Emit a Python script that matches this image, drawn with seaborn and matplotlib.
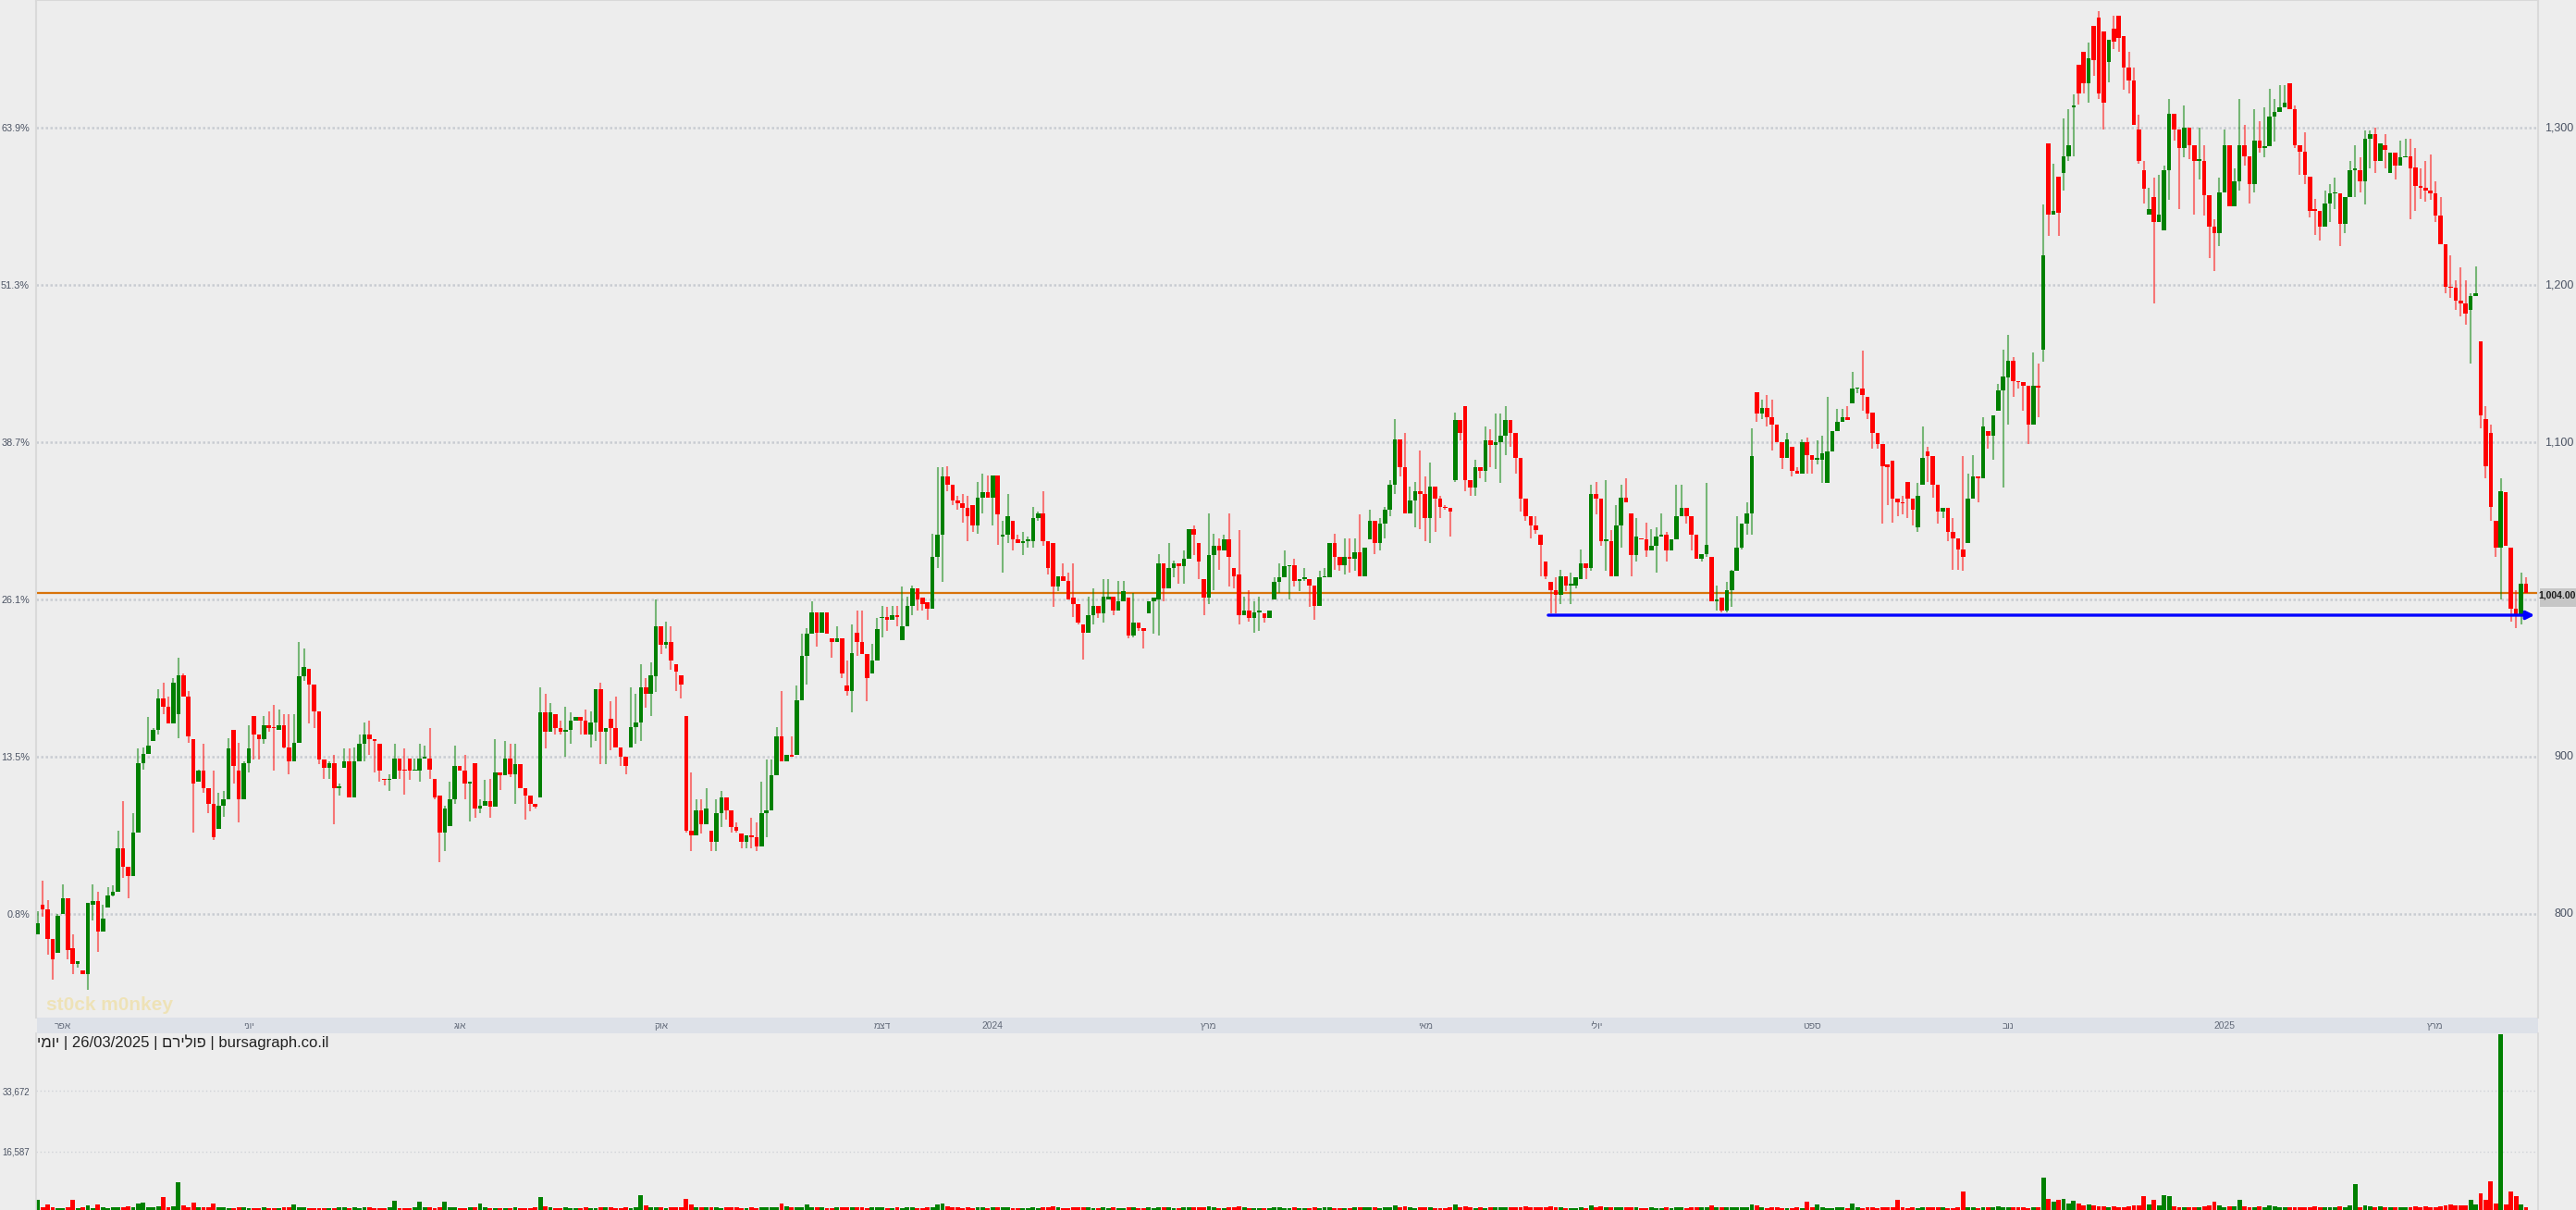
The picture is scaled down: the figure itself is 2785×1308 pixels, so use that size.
import numpy as np
import pandas as pd
import matplotlib
matplotlib.use('Agg')
import matplotlib.pyplot as plt
import matplotlib.transforms as mtransforms
from matplotlib.patches import Rectangle
import seaborn as sns

# ---------------- data ----------------
opens = [
    787, 806, 803, 784, 775, 800, 810, 778, 768, 764,
    762, 806, 808, 789, 804, 812, 814, 842, 830, 824,
    852, 896, 902, 910, 917, 937, 932, 921, 927, 952,
    938, 911, 884, 891, 880, 870, 854, 869, 873, 917,
    891, 873, 896, 926, 914, 911, 920, 919, 917, 920,
    906, 897, 909, 951, 956, 946, 929, 898, 893, 896,
    880, 893, 897, 874, 897, 908, 914, 911, 908, 886,
    885, 886, 899, 892, 899, 891, 891, 899, 899, 886,
    875, 852, 856, 873, 894, 891, 883, 896, 867, 869,
    872, 868, 890, 888, 899, 889, 895, 880, 875, 870,
    874, 928, 916, 927, 918, 916, 917, 923, 925, 923,
    914, 922, 943, 916, 924, 918, 906, 900, 906, 919,
    922, 944, 940, 951, 983, 971, 973, 959, 952, 926,
    853, 850, 866, 857, 853, 846, 864, 874, 866, 855,
    851, 846, 850, 849, 843, 864, 866, 888, 913, 897,
    901, 901, 936, 964, 978, 992, 979, 992, 975, 973,
    975, 945, 942, 979, 973, 965, 953, 961, 988, 989,
    987, 990, 974, 983, 996, 1007, 1001, 998, 994, 1027,
    1041, 1078, 1073, 1063, 1061, 1058, 1060, 1047, 1065, 1068,
    1065, 1079, 1040, 1041, 1050, 1038, 1036, 1037, 1037, 1052,
    1055, 1037, 1036, 1008, 1015, 1012, 1001, 997, 984, 979,
    990, 996, 991, 1000, 1002, 993, 999, 1001, 977, 985,
    982, 991, 999, 1000, 1023, 1007, 1020, 1023, 1021, 1026,
    1045, 1036, 1013, 1001, 1028, 1034, 1031, 1038, 1020, 1016,
    990, 993, 988, 992, 991, 988, 1000, 1011, 1014, 1021,
    1022, 1012, 1013, 1013, 1009, 996, 1014, 1014, 1036, 1027,
    1022, 1027, 1026, 1030, 1015, 1038, 1050, 1036, 1048, 1057,
    1073, 1102, 1084, 1055, 1063, 1069, 1067, 1052, 1072, 1064,
    1059, 1058, 1076, 1114, 1123, 1076, 1071, 1084, 1082, 1101,
    1098, 1100, 1104, 1114, 1106, 1090, 1064, 1053, 1047, 1041,
    1024, 1011, 1006, 1003, 1015, 1009, 1009, 1013, 1023, 1020,
    1067, 1064, 1037, 1037, 1015, 1047, 1065, 1055, 1028, 1039,
    1038, 1031, 1034, 1040, 1041, 1031, 1038, 1053, 1058, 1053,
    1041, 1026, 1029, 1027, 999, 1001, 993, 1006, 1018, 1033,
    1048, 1055, 1132, 1118, 1122, 1116, 1111, 1100, 1090, 1097,
    1082, 1080, 1100, 1092, 1089, 1089, 1074, 1094, 1107, 1113,
    1116, 1125, 1134, 1134, 1129, 1119, 1106, 1099, 1086, 1088,
    1064, 1062, 1075, 1064, 1046, 1073, 1094, 1091, 1073, 1056,
    1058, 1043, 1039, 1032, 1036, 1064, 1078, 1077, 1107, 1104,
    1120, 1133, 1141, 1152, 1139, 1138, 1136, 1111, 1136, 1159,
    1290, 1245, 1269, 1271, 1282, 1313, 1340, 1348, 1328, 1365,
    1370, 1361, 1342, 1363, 1371, 1358, 1338, 1330, 1299, 1273,
    1245, 1256, 1240, 1235, 1273, 1309, 1299, 1287, 1300, 1289,
    1279, 1279, 1257, 1237, 1233, 1259, 1289, 1250, 1266, 1289,
    1282, 1264, 1292, 1287, 1288, 1307, 1310, 1313, 1328, 1312,
    1289, 1285, 1269, 1248, 1247, 1237, 1252, 1258, 1258, 1239,
    1256, 1273, 1273, 1266, 1293, 1296, 1279, 1289, 1271, 1284,
    1276, 1281, 1282, 1275, 1263, 1262, 1260, 1258, 1244, 1226,
    1199, 1198, 1190, 1188, 1184, 1193, 1164, 1115, 1106, 1050,
    1033, 1068, 1033, 994, 990, 1010,
]
highs = [
    802, 821, 809, 784, 800, 819, 810, 787, 770, 764,
    807, 819, 814, 806, 817, 818, 853, 872, 830, 864,
    905, 906, 925, 918, 943, 947, 938, 950, 963, 953,
    942, 911, 892, 908, 880, 891, 877, 878, 912, 917,
    909, 897, 920, 926, 914, 926, 929, 933, 930, 927,
    927, 927, 973, 969, 956, 946, 929, 898, 897, 901,
    883, 905, 905, 906, 914, 922, 923, 911, 908, 886,
    889, 908, 899, 905, 899, 899, 908, 907, 918, 886,
    875, 869, 884, 907, 894, 901, 884, 896, 873, 885,
    886, 911, 890, 910, 908, 908, 895, 880, 875, 870,
    944, 940, 934, 927, 923, 932, 928, 925, 925, 930,
    929, 943, 947, 918, 935, 938, 906, 900, 944, 940,
    959, 950, 960, 1000, 983, 986, 983, 959, 952, 926,
    890, 873, 873, 880, 853, 873, 878, 874, 866, 858,
    851, 850, 861, 858, 884, 898, 898, 919, 942, 901,
    913, 945, 978, 982, 999, 992, 992, 992, 975, 983,
    975, 961, 984, 993, 993, 965, 972, 988, 996, 995,
    996, 996, 1008, 1002, 1009, 1007, 1001, 998, 1042, 1084,
    1084, 1085, 1073, 1066, 1067, 1066, 1060, 1075, 1080, 1079,
    1079, 1079, 1050, 1067, 1050, 1041, 1043, 1040, 1059, 1056,
    1069, 1037, 1036, 1015, 1023, 1017, 1023, 997, 984, 1002,
    1007, 996, 1013, 1013, 1002, 1012, 1012, 1001, 1004, 985,
    982, 999, 1001, 1029, 1023, 1036, 1025, 1023, 1031, 1045,
    1047, 1036, 1013, 1055, 1042, 1039, 1041, 1055, 1020, 1044,
    1002, 1006, 999, 1002, 991, 993, 1014, 1023, 1031, 1022,
    1026, 1013, 1020, 1013, 1009, 1018, 1020, 1036, 1042, 1027,
    1039, 1039, 1039, 1054, 1033, 1057, 1050, 1052, 1059, 1076,
    1115, 1102, 1106, 1072, 1075, 1095, 1078, 1087, 1072, 1066,
    1060, 1058, 1119, 1114, 1123, 1076, 1089, 1084, 1110, 1108,
    1118, 1118, 1123, 1114, 1106, 1090, 1064, 1053, 1053, 1041,
    1024, 1011, 1014, 1019, 1015, 1017, 1014, 1032, 1023, 1073,
    1075, 1064, 1076, 1044, 1060, 1073, 1077, 1055, 1052, 1039,
    1049, 1045, 1046, 1055, 1043, 1038, 1073, 1073, 1058, 1053,
    1041, 1029, 1074, 1027, 1009, 1001, 1011, 1019, 1053, 1048,
    1062, 1109, 1132, 1127, 1130, 1127, 1111, 1100, 1106, 1097,
    1084, 1102, 1103, 1092, 1101, 1104, 1129, 1107, 1121, 1121,
    1123, 1145, 1134, 1158, 1129, 1119, 1106, 1099, 1086, 1088,
    1064, 1066, 1075, 1064, 1074, 1110, 1097, 1091, 1073, 1058,
    1058, 1052, 1039, 1091, 1080, 1092, 1078, 1116, 1107, 1117,
    1137, 1159, 1168, 1154, 1139, 1138, 1136, 1157, 1150, 1251,
    1290, 1277, 1269, 1306, 1312, 1321, 1340, 1348, 1354, 1365,
    1374, 1361, 1356, 1371, 1371, 1358, 1348, 1338, 1308, 1279,
    1262, 1268, 1270, 1276, 1318, 1309, 1299, 1314, 1300, 1289,
    1300, 1289, 1257, 1242, 1268, 1299, 1289, 1274, 1318, 1302,
    1282, 1312, 1304, 1313, 1325, 1318, 1327, 1327, 1328, 1314,
    1289, 1297, 1269, 1255, 1247, 1260, 1264, 1268, 1258, 1256,
    1279, 1289, 1281, 1298, 1298, 1300, 1290, 1296, 1284, 1284,
    1292, 1293, 1293, 1287, 1274, 1279, 1283, 1266, 1256, 1226,
    1219, 1203, 1211, 1203, 1195, 1212, 1164, 1123, 1111, 1050,
    1077, 1068, 1033, 1006, 1017, 1014,
]
lows = [
    787, 798, 774, 758, 775, 800, 771, 762, 766, 762,
    752, 796, 776, 789, 804, 811, 814, 823, 810, 824,
    852, 892, 902, 910, 914, 927, 921, 921, 912, 938,
    909, 852, 884, 877, 864, 847, 854, 862, 873, 883,
    858, 873, 890, 898, 898, 908, 916, 891, 917, 905,
    889, 897, 909, 948, 921, 918, 895, 886, 886, 857,
    875, 893, 874, 874, 897, 897, 901, 890, 884, 882,
    878, 886, 886, 876, 885, 891, 884, 899, 886, 873,
    833, 840, 856, 870, 891, 873, 859, 861, 864, 869,
    861, 868, 879, 888, 887, 870, 880, 860, 865, 867,
    874, 905, 916, 914, 914, 900, 908, 923, 914, 914,
    906, 910, 895, 895, 904, 906, 894, 889, 906, 908,
    910, 931, 926, 941, 965, 969, 955, 942, 937, 852,
    840, 850, 851, 857, 840, 840, 855, 860, 852, 852,
    842, 842, 842, 840, 843, 849, 866, 888, 897, 897,
    900, 901, 936, 946, 978, 970, 979, 978, 963, 973,
    950, 939, 928, 964, 965, 935, 953, 961, 976, 980,
    987, 983, 974, 983, 990, 993, 993, 987, 994, 1020,
    1011, 1069, 1060, 1057, 1049, 1037, 1043, 1042, 1055, 1065,
    1047, 1035, 1017, 1036, 1031, 1036, 1028, 1033, 1033, 1050,
    1034, 1016, 995, 1005, 1012, 1000, 989, 984, 962, 979,
    984, 988, 985, 1000, 990, 993, 999, 975, 976, 980,
    969, 991, 978, 977, 999, 1007, 1014, 1010, 1010, 1026,
    1028, 1013, 990, 997, 1006, 1019, 1031, 1008, 1007, 984,
    990, 986, 979, 980, 985, 988, 1000, 1004, 1014, 1000,
    1008, 1005, 1012, 995, 987, 996, 1014, 1014, 1019, 1018,
    1016, 1017, 1018, 1015, 1015, 1038, 1029, 1031, 1039, 1053,
    1067, 1078, 1055, 1055, 1046, 1045, 1037, 1036, 1043, 1052,
    1057, 1040, 1075, 1101, 1069, 1066, 1066, 1077, 1075, 1084,
    1083, 1074, 1092, 1097, 1080, 1056, 1050, 1039, 1042, 1015,
    1013, 991, 991, 997, 1005, 997, 1007, 1013, 1013, 1018,
    1054, 1034, 1018, 1015, 1015, 1033, 1062, 1015, 1024, 1038,
    1027, 1031, 1017, 1040, 1024, 1031, 1038, 1053, 1048, 1031,
    1026, 1024, 1027, 999, 993, 992, 992, 995, 1018, 1032,
    1041, 1041, 1113, 1115, 1110, 1095, 1100, 1083, 1090, 1078,
    1080, 1080, 1080, 1080, 1086, 1074, 1074, 1094, 1107, 1113,
    1114, 1125, 1131, 1120, 1115, 1096, 1096, 1048, 1060, 1049,
    1053, 1054, 1052, 1047, 1043, 1073, 1075, 1065, 1048, 1052,
    1037, 1019, 1019, 1018, 1036, 1064, 1062, 1077, 1096, 1089,
    1120, 1071, 1111, 1129, 1134, 1120, 1099, 1111, 1116, 1151,
    1231, 1245, 1231, 1260, 1279, 1282, 1315, 1322, 1316, 1333,
    1318, 1299, 1329, 1350, 1348, 1324, 1322, 1302, 1277, 1252,
    1245, 1188, 1240, 1235, 1254, 1292, 1248, 1281, 1280, 1245,
    1267, 1244, 1217, 1209, 1225, 1259, 1250, 1250, 1260, 1276,
    1252, 1259, 1284, 1281, 1288, 1291, 1310, 1313, 1312, 1287,
    1270, 1264, 1243, 1232, 1228, 1237, 1240, 1248, 1225, 1233,
    1256, 1256, 1259, 1251, 1274, 1271, 1279, 1274, 1271, 1267,
    1276, 1281, 1242, 1247, 1255, 1253, 1254, 1240, 1226, 1195,
    1192, 1184, 1180, 1175, 1150, 1193, 1109, 1077, 1050, 1027,
    1000, 1034, 986, 982, 984, 1004,
]
closes = [
    794, 803, 784, 771, 799, 810, 777, 768, 770, 762,
    807, 808, 789, 797, 812, 814, 842, 830, 824, 852,
    896, 902, 907, 917, 937, 932, 921, 947, 952, 938,
    913, 883, 891, 880, 870, 849, 869, 873, 905, 894,
    873, 896, 905, 914, 911, 920, 918, 918, 920, 906,
    897, 909, 951, 957, 946, 929, 898, 893, 896, 880,
    881, 897, 874, 897, 908, 914, 911, 910, 891, 885,
    886, 899, 891, 891, 891, 892, 899, 899, 892, 874,
    852, 867, 873, 894, 891, 883, 884, 867, 869, 872,
    868, 890, 888, 899, 889, 895, 880, 875, 870, 868,
    928, 916, 928, 918, 916, 917, 923, 925, 923, 914,
    922, 943, 916, 918, 918, 906, 900, 894, 919, 922,
    944, 940, 952, 983, 971, 973, 961, 954, 946, 853,
    850, 866, 857, 867, 846, 864, 874, 866, 855, 853,
    846, 850, 849, 843, 864, 866, 888, 913, 897, 901,
    900, 936, 964, 978, 992, 979, 992, 978, 973, 975,
    953, 942, 966, 973, 965, 950, 961, 981, 989, 987,
    990, 989, 983, 996, 1007, 1000, 997, 994, 1027, 1041,
    1078, 1073, 1063, 1061, 1058, 1053, 1047, 1065, 1068, 1065,
    1079, 1054, 1041, 1053, 1038, 1036, 1037, 1037, 1052, 1055,
    1037, 1020, 1008, 1015, 1012, 1000, 997, 985, 979, 990,
    996, 991, 1002, 1002, 993, 999, 1005, 977, 985, 982,
    980, 999, 1001, 1023, 1007, 1020, 1023, 1021, 1026, 1045,
    1041, 1024, 1001, 1028, 1034, 1031, 1038, 1027, 1015, 990,
    993, 988, 992, 993, 988, 993, 1011, 1014, 1021, 1022,
    1012, 1013, 1013, 1009, 996, 1014, 1014, 1036, 1027, 1022,
    1027, 1026, 1030, 1015, 1033, 1050, 1036, 1048, 1057, 1073,
    1102, 1084, 1055, 1063, 1069, 1067, 1052, 1072, 1064, 1059,
    1058, 1056, 1114, 1106, 1076, 1071, 1084, 1082, 1101, 1098,
    1100, 1104, 1114, 1106, 1090, 1064, 1053, 1047, 1044, 1035,
    1015, 1006, 1003, 1015, 1009, 1009, 1014, 1023, 1020, 1067,
    1064, 1037, 1037, 1015, 1047, 1065, 1062, 1028, 1040, 1038,
    1031, 1034, 1040, 1041, 1031, 1038, 1053, 1058, 1053, 1041,
    1026, 1029, 1035, 999, 1000, 993, 1006, 1018, 1033, 1048,
    1055, 1091, 1118, 1122, 1116, 1111, 1100, 1090, 1102, 1082,
    1080, 1100, 1092, 1089, 1089, 1093, 1094, 1107, 1113, 1116,
    1114, 1134, 1134, 1130, 1118, 1106, 1099, 1085, 1084, 1064,
    1062, 1061, 1064, 1057, 1066, 1090, 1091, 1073, 1056, 1058,
    1043, 1039, 1032, 1027, 1064, 1078, 1077, 1110, 1104, 1117,
    1133, 1142, 1152, 1139, 1138, 1136, 1111, 1136, 1135, 1219,
    1245, 1247, 1246, 1282, 1289, 1314, 1322, 1328, 1344, 1343,
    1322, 1316, 1356, 1355, 1357, 1338, 1330, 1302, 1279, 1261,
    1248, 1240, 1245, 1273, 1309, 1299, 1287, 1300, 1289, 1279,
    1279, 1257, 1237, 1233, 1259, 1289, 1250, 1266, 1289, 1282,
    1264, 1292, 1287, 1288, 1307, 1310, 1313, 1316, 1312, 1289,
    1285, 1270, 1247, 1247, 1237, 1252, 1258, 1258, 1239, 1256,
    1273, 1274, 1266, 1293, 1296, 1279, 1290, 1286, 1284, 1276,
    1281, 1282, 1274, 1263, 1262, 1260, 1258, 1244, 1226, 1199,
    1198, 1190, 1188, 1182, 1193, 1195, 1117, 1085, 1059, 1033,
    1069, 1034, 994, 990, 1010, 1004,
]
volume = [
    2970, 800, 1660, 700, 600, 500, 700, 2800, 600, 700, 1220, 600, 1480, 700, 600, 800, 700, 900, 1000, 800,
    1920, 2100, 900, 800, 1000, 3580, 900, 1100, 7770, 1400, 800, 2100, 900, 700, 800, 1830, 900, 700, 600, 600,
    700, 700, 600, 500, 600, 700, 600, 500, 600, 700, 800, 1660, 800, 700, 600, 600, 500, 600, 600, 600,
    700, 700, 600, 700, 600, 700, 800, 600, 500, 600, 700, 2530, 600, 600, 500, 700, 2360, 900, 700, 600,
    700, 2270, 800, 700, 600, 600, 700, 800, 1830, 700, 600, 500, 600, 500, 600, 700, 600, 600, 600, 700,
    3580, 1000, 700, 600, 600, 700, 600, 500, 600, 700, 600, 600, 700, 800, 700, 600, 600, 700, 600, 800,
    4100, 1200, 900, 800, 700, 600, 700, 700, 800, 3060, 1500, 900, 800, 700, 800, 700, 600, 700, 800, 700,
    600, 600, 700, 600, 700, 800, 700, 800, 1830, 1100, 900, 800, 700, 1660, 900, 800, 700, 600, 600, 700,
    700, 800, 700, 900, 700, 600, 700, 800, 700, 600, 600, 700, 600, 700, 800, 600, 600, 700, 900, 1500,
    1800, 1000, 800, 700, 600, 700, 600, 800, 700, 600, 700, 900, 800, 700, 600, 600, 500, 600, 700, 600,
    700, 800, 1000, 700, 600, 600, 700, 800, 900, 700, 600, 600, 700, 600, 700, 600, 600, 800, 700, 600,
    600, 700, 600, 900, 700, 700, 600, 600, 700, 900, 700, 800, 900, 1000, 700, 600, 600, 700, 800, 1000,
    700, 600, 600, 600, 500, 600, 700, 700, 600, 600, 700, 600, 500, 600, 700, 600, 700, 800, 600, 600,
    600, 600, 700, 800, 700, 900, 700, 600, 700, 900, 1400, 900, 1000, 700, 600, 700, 800, 700, 600, 600,
    600, 700, 1600, 800, 1100, 700, 600, 700, 600, 800, 700, 700, 800, 700, 800, 900, 1000, 800, 700, 900,
    900, 1000, 800, 700, 600, 600, 600, 700, 600, 1400, 900, 1000, 800, 900, 800, 900, 700, 900, 700, 600,
    600, 700, 600, 600, 700, 600, 800, 700, 600, 700, 800, 700, 800, 1200, 900, 700, 800, 700, 800, 700,
    700, 1500, 1200, 700, 600, 700, 700, 600, 600, 600, 700, 600, 2270, 700, 1660, 700, 600, 600, 700, 800,
    600, 1920, 700, 600, 800, 700, 600, 700, 700, 800, 2800, 700, 600, 700, 600, 800, 700, 700, 800, 700,
    600, 600, 900, 5150, 700, 800, 600, 900, 700, 800, 1000, 800, 900, 700, 800, 700, 600, 900, 800, 9080,
    3230, 2270, 2970, 3230, 1800, 2530, 1920, 1300, 1660, 1200, 1100, 1000, 900, 1000, 900, 900, 1000, 1300, 1200, 3840,
    1500, 2800, 1200, 4100, 3840, 1100, 900, 800, 700, 800, 900, 1000, 1200, 2270, 1200, 900, 1000, 1100, 2800, 1000,
    900, 800, 1000, 700, 1200, 1000, 900, 800, 700, 800, 700, 800, 900, 1000, 900, 800, 700, 800, 1000, 800,
    1200, 7330, 900, 1200, 1000, 800, 1000, 900, 800, 800, 700, 800, 900, 1000, 900, 1100, 800, 700, 1000, 1200,
    1500, 1200, 1400, 1200, 2800, 1500, 4710, 2970, 8200, 1830, 49700, 1480, 5150, 3840, 1480, 790,
]

last_price = 1004.00
support_level = 990
support_start = 301

price_ticks = [800, 900, 1000, 1100, 1200, 1300]
pct_labels = ['0.8%', '13.5%', '26.1%', '38.7%', '51.3%', '63.9%']
right_ticks = [800, 900, 1100, 1200, 1300]
right_labels = ['800', '900', '1,100', '1,200', '1,300']
vol_ticks = [16587, 33672]
vol_labels = ['16,587', '33,672']

month_pos = [5, 42, 84, 124, 168, 190, 233, 276, 310, 353, 392, 435, 477]
month_labels = ['אפר', 'יוני', 'אוג', 'אוק', 'דצמ', '2024', 'מרץ', 'מאי', 'יולי',
                'ספט', 'נוב', '2025', 'מרץ']
title_parts = ['יומי', '26/03/2025', 'פולירם', 'bursagraph.co.il']

# ---------------- style ----------------
BG = '#ededed'
RED = '#ff0000'
GREEN = '#008000'
LABEL = '#4b5363'

sns.set_theme(style='white')
plt.rcParams['font.family'] = ['Liberation Sans', 'DejaVu Sans']


def visual(s):
    # matplotlib has no bidi support: flip Hebrew words for display
    if any('\u0590' <= ch <= '\u05ff' for ch in s):
        return s[::-1]
    return s


n = len(closes)
assert len(opens) == len(highs) == len(lows) == len(volume) == n

df = pd.DataFrame({'idx': np.arange(n), 'open': opens, 'high': highs,
                   'low': lows, 'close': closes, 'vol': volume})
df['dir'] = np.where(df['close'] >= df['open'], 'up', 'down')
palette = {'up': GREEN, 'down': RED}

W, H = 2785, 1308
fig = plt.figure(figsize=(W / 100, H / 100), dpi=100, facecolor=BG)


def px_axes(x0, y0, x1, y1):
    return fig.add_axes([x0 / W, 1 - y1 / H, (x1 - x0) / W, (y1 - y0) / H])


ax = px_axes(39, 0, 2744, 1100)
axv = px_axes(39, 1117, 2744, 1308)

# ---------------- price panel ----------------
ax.set_facecolor(BG)
x_lo, x_hi = -0.31, 497.4
for t in price_ticks:
    ax.axhline(t, color='#c9ccd2', lw=1.8, ls=(0, (1, 1)), zorder=0)

col = df['dir'].map(palette)
ax.vlines(df['idx'], df['low'], df['high'], colors=col, alpha=0.5, lw=1.5, zorder=2)
body_lo = np.minimum(df['open'], df['close'])
body_h = np.maximum(np.abs(df['close'] - df['open']), 1.0)
ax.bar(df['idx'], body_h, bottom=body_lo, width=0.84, color=col, linewidth=0, zorder=3)

ax.axhline(last_price, color='#d8730a', lw=1.6, zorder=1)
ax.annotate('', xy=(x_hi - 0.7, support_level), xytext=(support_start - 0.5, support_level),
            arrowprops=dict(arrowstyle='-|>', color='#0000ff', lw=2.4, mutation_scale=13,
                            shrinkA=0, shrinkB=0), zorder=4)

ax.set_xlim(x_lo, x_hi)
ax.set_ylim(734.1, 1381.2)
ax.set_xticks([])
ax.set_yticks(price_ticks)
ax.set_yticklabels(pct_labels, fontsize=7.8, color=LABEL)
ax.tick_params(axis='y', length=0, pad=5)
for side, sp in ax.spines.items():
    sp.set_color('#d9d9d9')
    sp.set_linewidth(1.5)
ax.spines['bottom'].set_visible(False)

# right-hand price labels
tr = mtransforms.blended_transform_factory(fig.transFigure, ax.transData)
for t, lab in zip(right_ticks, right_labels):
    ax.text(2782 / W, t, lab, transform=tr, ha='right', va='center',
            fontsize=9, color=LABEL, clip_on=False)
fig.patches.append(Rectangle((2746 / W, 1 - 656 / H), 39 / W, 20 / H,
                             transform=fig.transFigure, facecolor='#c6c6c6',
                             edgecolor='none', zorder=-1))
ax.text(2744 / W, last_price - 1.5, f'{last_price:,.2f}', transform=tr, ha='left',
        va='center', fontsize=7.5, fontweight='bold', color='#1a1a1a', clip_on=False,
        zorder=6)

# watermark
fig.text(50 / W, 1 - 1087 / H, 'st0ck m0nkey', fontsize=15, fontweight='bold',
         color='#f0dc94', alpha=0.6, va='center', ha='left')

# date strip
fig.patches.append(Rectangle((40 / W, 1 - 1117 / H), 2704 / W, 17 / H,
                             transform=fig.transFigure, facecolor='#dde1e8',
                             edgecolor='none', zorder=-1))
trd = mtransforms.blended_transform_factory(ax.transData, fig.transFigure)
for p, lab in zip(month_pos, month_labels):
    ax.text(p, 1 - 1109 / H, visual(lab), transform=trd, ha='center', va='center',
            fontsize=7.4, color='#626a79', clip_on=False, zorder=6)

# ---------------- volume panel ----------------
axv.set_facecolor(BG)
sns.barplot(data=df, x='idx', y='vol', hue='dir', palette=palette, native_scale=True,
            dodge=False, width=0.9, errorbar=None, legend=False, saturation=1,
            linewidth=0, ax=axv)
for t in vol_ticks:
    axv.axhline(t, color='#cfd2d7', lw=1.0, ls=(0, (1, 2)), zorder=0)
axv.set_xlim(x_lo, x_hi)
axv.set_ylim(0, 50000)
axv.set_xticks([])
axv.set_xlabel('')
axv.set_ylabel('')
axv.set_yticks(vol_ticks)
axv.set_yticklabels(vol_labels, fontsize=7, color=LABEL)
axv.tick_params(axis='y', length=0, pad=5)
for side, sp in axv.spines.items():
    sp.set_visible(False)
axv.spines['left'].set_visible(True)
axv.spines['left'].set_color('#d9d9d9')
axv.spines['right'].set_visible(True)
axv.spines['right'].set_color('#d9d9d9')

title = ' | '.join(visual(p) for p in title_parts)
fig.text(40 / W, 1 - 1127 / H, title, fontsize=12, color='#222222', ha='left', va='center')

fig.savefig('out.png', dpi=100, facecolor=BG)
